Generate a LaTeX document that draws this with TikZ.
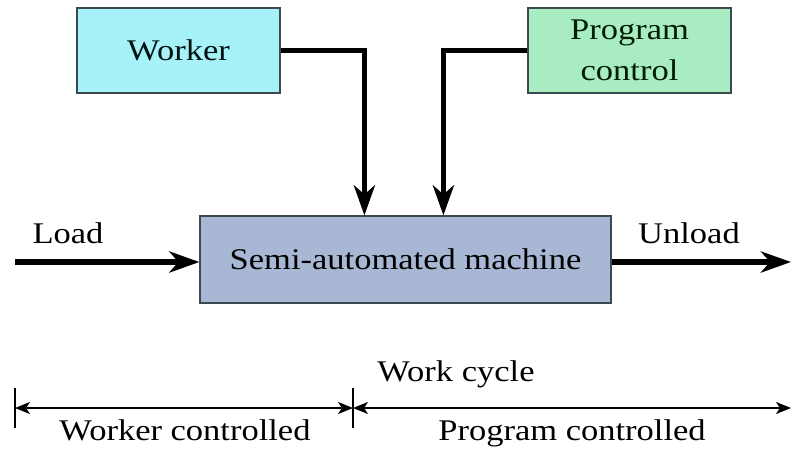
\documentclass[tikz,border=0pt]{standalone}
\usepackage{fontspec}
\setmainfont{Liberation Serif}[FakeStretch=1.15]
\usetikzlibrary{arrows.meta,calc}
\definecolor{workerfill}{HTML}{A6F2F8}
\definecolor{progfill}{HTML}{A9ECC1}
\definecolor{machfill}{HTML}{A8B7D4}
\definecolor{boxline}{HTML}{3A4A50}
\tikzset{
  every node/.style={font=\fontsize{30}{32}\selectfont, inner sep=0pt},
  block/.style={draw=boxline, line width=1.2pt, align=center},
  flow/.style={line width=5.5pt, -{Stealth[length=30pt,width=21pt,inset=9pt]}},
  span/.style={line width=1.6pt, {Stealth[length=15pt,width=12pt,inset=4pt]}-{Stealth[length=15pt,width=12pt,inset=4pt]}},
  tick/.style={line width=1.4pt},
  lbl/.style={anchor=base}
}
\begin{document}
\begin{tikzpicture}[x=1pt,y=-1pt]
  \useasboundingbox (0,0) rectangle (792,450);

  % blocks
  \node[block, fill=workerfill, minimum width=203pt, minimum height=85pt, text=black!85!teal] (worker) at (178.5,50.5) {Worker};
  \node[block, fill=progfill, minimum width=203pt, minimum height=85pt, text=black!80!green!60!black] (prog) at (629.5,50.5) {Program\\[9pt]control};
  \node[block, fill=machfill, minimum width=411pt, minimum height=87pt] (mach) at (405.5,259.5) {Semi-automated machine};

  % arrow targets on the top edge of the machine
  \coordinate (win) at ($(mach.north west)+(165,0)$);
  \coordinate (pin) at ($(mach.north west)+(244,0)$);
  \coordinate (src) at (15,262);
  \coordinate (snk) at (791,262);

  % material and control flows
  \draw[flow] (worker.east) -| (win);
  \draw[flow] (prog.west) -| (pin);
  \draw[flow] (src) -- (src -| mach.west);
  \draw[flow] (snk -| mach.east) -- (snk);

  \node[lbl] (load) at (68,243) {Load};
  \node[lbl] (unload) at (689,243) {Unload};

  % work cycle time line
  \coordinate (c0) at (15,408);
  \coordinate (c1) at (353,408);
  \coordinate (c2) at (791,408);
  \draw[tick] ($(c0)+(0,-20)$) -- ($(c0)+(0,20)$);
  \draw[tick] ($(c1)+(0,-20)$) -- ($(c1)+(0,20)$);
  \draw[span] (c0) -- (c1);
  \draw[span] (c1) -- (c2);

  \node[lbl] (cycle) at (456,381) {Work cycle};
  \node[lbl] (wctl) at (185,440) {Worker controlled};
  \node[lbl] (pctl) at (572,440) {Program controlled};
\end{tikzpicture}
\end{document}
